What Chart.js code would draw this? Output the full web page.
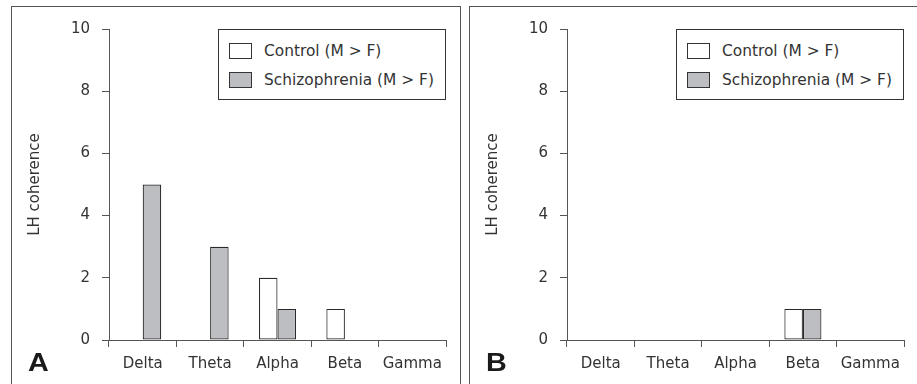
<!DOCTYPE html>
<html>
<head>
<meta charset="utf-8">
<script src="https://cdn.jsdelivr.net/npm/chart.js@4.4.1/dist/chart.umd.min.js"></script>
<style>
    body { margin: 0; width: 917px; height: 384px; overflow: hidden; background: #fff; font-family: "DejaVu Sans", sans-serif; color: #333; }
    .panel { position: absolute; top: 6px; height: 400px; border-top: 1px solid #555; border-left: 1px solid #555; }
    #panelA { left: 11px; width: 448px; border-right: 1px solid #555; }
    #panelB { left: 469px; width: 460px; }
    .panel canvas { position: absolute; left: 0; top: 0; }
    .letter { position: absolute; left: 16px; top: 341px; font: bold 25px "Liberation Sans", Arial, sans-serif; color: #1a1a1a; transform: scaleX(1.15); transform-origin: left; }
    .legend { position: absolute; left: 206px; top: 22px; width: 226px; height: 69px; border: 1px solid #333; background: #fff; }
    .legend .item { position: absolute; left: 10px; height: 18px; font-size: 15.4px; line-height: 18px; white-space: nowrap; }
    .legend .swatch { position: absolute; left: 0; top: 1px; width: 21px; height: 14px; border: 1px solid #333; }
    .legend .label { position: absolute; left: 35px; top: 0; }
</style>
</head>
<body>
<div class="panel" id="panelA">
    <canvas id="chartA" width="448" height="377"></canvas>
    <div class="legend" id="legendA"></div>
    <div class="letter">A</div>
</div>
<div class="panel" id="panelB">
    <canvas id="chartB" width="448" height="377"></canvas>
    <div class="legend" id="legendB"></div>
    <div class="letter">B</div>
</div>
<script>
// data
const bands = ['Delta', 'Theta', 'Alpha', 'Beta', 'Gamma'];
const seriesNames = ['Control (M > F)', 'Schizophrenia (M > F)'];
const controlA = [0, 0, 2, 1, 0];
const schizoA = [5, 3, 1, 0, 0];
const controlB = [0, 0, 0, 1, 0];
const schizoB = [0, 0, 0, 1, 0];
const yTicks = [0, 2, 4, 6, 8, 10];

const fills = ['#ffffff', '#bdbec2'];
const axisColor = '#555';
const textColor = '#333';

Chart.defaults.font.family = '"DejaVu Sans", sans-serif';
Chart.defaults.font.size = 15;
Chart.defaults.color = textColor;

//build one panel chart
function makeChart(canvasId, legendId, control, schizo) {
    const data = {
        labels: bands,
        datasets: [control, schizo].map((values, i) => ({
            label: seriesNames[i],
            data: values,
            backgroundColor: fills[i],
            borderColor: '#2a2a2a',
            borderWidth: 1.2,
            borderSkipped: false,
            categoryPercentage: 0.55,
            barPercentage: 1
        }))
    };

    const config = {
        type: 'bar',
        data,
        options: {
            responsive: false,
            animation: false,
            layout: { padding: { left: 0, right: 14, top: 22, bottom: 0 } },
            plugins: { legend: { display: false }, tooltip: { enabled: false } },
            scales: {
                x: {
                    grid: { drawOnChartArea: false, drawTicks: true, tickLength: 7, color: axisColor },
                    border: { color: axisColor },
                    ticks: { padding: 8, color: textColor },
                    afterFit: (scale) => { scale.height = 44; }
                },
                y: {
                    min: 0,
                    max: 10,
                    afterBuildTicks: (scale) => { scale.ticks = yTicks.map(v => ({ value: v })); },
                    grid: { drawOnChartArea: false, drawTicks: true, tickLength: 7, color: axisColor },
                    border: { color: axisColor },
                    ticks: { padding: 12, color: textColor },
                    title: { display: true, text: 'LH coherence', padding: { top: 14, bottom: 0 }, color: textColor },
                    afterFit: (scale) => { scale.width = 97; }
                }
            }
        }
    };

    new Chart(document.getElementById(canvasId), config);

    //html legend from the dataset labels and colours
    const legend = document.getElementById(legendId);
    data.datasets.forEach((ds, i) => {
        const item = document.createElement('div');
        item.className = 'item';
        item.style.top = (12 + i * 29) + 'px';
        const sw = document.createElement('span');
        sw.className = 'swatch';
        sw.style.background = ds.backgroundColor;
        const lb = document.createElement('span');
        lb.className = 'label';
        lb.textContent = ds.label;
        item.appendChild(sw);
        item.appendChild(lb);
        legend.appendChild(item);
    });
}

makeChart('chartA', 'legendA', controlA, schizoA);
makeChart('chartB', 'legendB', controlB, schizoB);
</script>
</body>
</html>
